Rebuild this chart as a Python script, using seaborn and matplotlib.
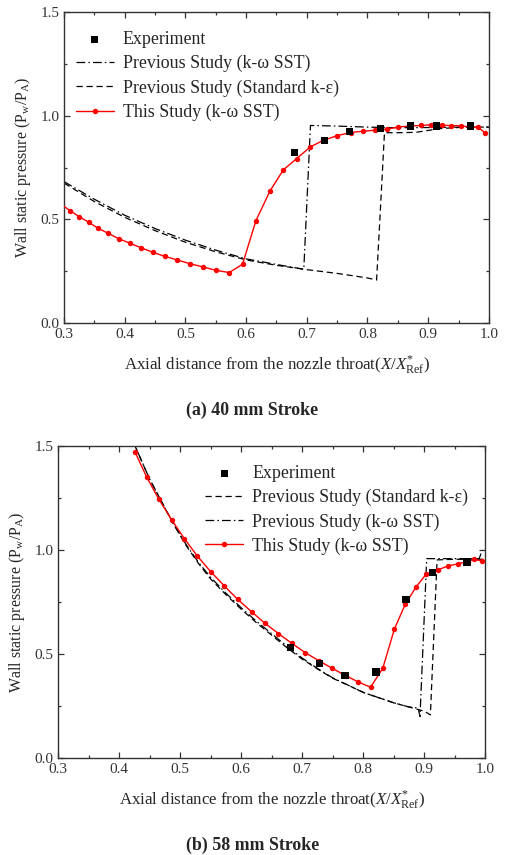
import numpy as np
import matplotlib
matplotlib.use("Agg")
import matplotlib.pyplot as plt
import seaborn as sns
from matplotlib.ticker import MultipleLocator, FormatStrFormatter

sns.set_style("ticks")
plt.rcParams["font.family"] = ["Liberation Serif", "DejaVu Serif"]
plt.rcParams["mathtext.fontset"] = "custom"
plt.rcParams["mathtext.rm"] = "Liberation Serif"
plt.rcParams["mathtext.it"] = "Liberation Serif:italic"

# (a) 40 mm stroke
exp_a_x = [0.68, 0.729, 0.77, 0.821, 0.871, 0.914, 0.97]
exp_a_y = [0.823, 0.881, 0.924, 0.937, 0.95, 0.95, 0.95]

sst_prev_a_x = [0.3, 0.35, 0.4, 0.45, 0.5, 0.55, 0.6, 0.65, 0.695, 0.706, 0.75, 0.8, 0.85, 0.9, 0.95, 1.0]
sst_prev_a_y = [0.682, 0.597, 0.52, 0.456, 0.40, 0.352, 0.31, 0.283, 0.26, 0.953, 0.95, 0.945, 0.942, 0.943, 0.945, 0.945]

ke_prev_a_x = [0.3, 0.35, 0.4, 0.45, 0.5, 0.55, 0.6, 0.65, 0.7, 0.75, 0.8, 0.815, 0.828, 0.85, 0.88, 0.92, 0.96, 1.0]
ke_prev_a_y = [0.675, 0.586, 0.51, 0.446, 0.39, 0.344, 0.305, 0.279, 0.258, 0.24, 0.218, 0.208, 0.918, 0.918, 0.92, 0.938, 0.945, 0.945]

this_a_x = [0.294, 0.31, 0.325, 0.341, 0.356, 0.373, 0.39, 0.409, 0.427, 0.446,
            0.466, 0.486, 0.507, 0.529, 0.55, 0.572, 0.594, 0.616, 0.639, 0.661,
            0.683, 0.706, 0.727, 0.75, 0.772, 0.792, 0.812, 0.832, 0.851, 0.87,
            0.888, 0.905, 0.922, 0.938, 0.954, 0.968, 0.982, 0.994]
this_a_y = [0.575, 0.542, 0.513, 0.486, 0.457, 0.433, 0.407, 0.385, 0.363, 0.342,
            0.322, 0.305, 0.287, 0.271, 0.255, 0.244, 0.284, 0.493, 0.636, 0.738,
            0.793, 0.85, 0.881, 0.904, 0.919, 0.925, 0.93, 0.935, 0.946, 0.95,
            0.953, 0.956, 0.955, 0.952, 0.952, 0.945, 0.944, 0.918]

# (b) 58 mm stroke
exp_b_x = [0.681, 0.728, 0.77, 0.821, 0.87, 0.913, 0.97]
exp_b_y = [0.531, 0.454, 0.395, 0.413, 0.763, 0.892, 0.942]

ke_prev_b_x = [0.42, 0.45, 0.47, 0.49, 0.51, 0.53, 0.55, 0.575, 0.6, 0.625, 0.65, 0.675, 0.7,
               0.725, 0.75, 0.775, 0.8, 0.825, 0.85, 0.875, 0.9, 0.91, 0.921, 0.95, 1.0]
ke_prev_b_y = [1.54, 1.34, 1.23, 1.12, 1.02, 0.935, 0.86, 0.785, 0.715, 0.65, 0.59, 0.53, 0.475,
               0.428, 0.383, 0.35, 0.315, 0.29, 0.265, 0.245, 0.225, 0.207, 0.952, 0.955, 0.955]

sst_prev_b_x = [0.42, 0.45, 0.47, 0.49, 0.51, 0.53, 0.55, 0.575, 0.6, 0.625, 0.65, 0.675, 0.7,
                0.725, 0.75, 0.775, 0.8, 0.825, 0.85, 0.875, 0.89, 0.893, 0.904, 0.95, 0.99, 0.995]
sst_prev_b_y = [1.54, 1.34, 1.23, 1.12, 1.025, 0.94, 0.868, 0.792, 0.722, 0.657, 0.597, 0.537, 0.48,
                0.43, 0.385, 0.35, 0.315, 0.29, 0.265, 0.245, 0.24, 0.199, 0.958, 0.958, 0.958, 1.0]

this_b_x = [0.426, 0.445, 0.465, 0.486, 0.507, 0.528, 0.55, 0.572, 0.594, 0.617,
            0.639, 0.661, 0.683, 0.705, 0.727, 0.749, 0.771, 0.792, 0.812, 0.832,
            0.851, 0.869, 0.887, 0.903, 0.922, 0.939, 0.955, 0.971, 0.981, 0.995]
this_b_y = [1.471, 1.351, 1.244, 1.145, 1.054, 0.971, 0.896, 0.828, 0.763, 0.703,
            0.647, 0.598, 0.551, 0.506, 0.468, 0.431, 0.396, 0.365, 0.34, 0.431,
            0.619, 0.74, 0.824, 0.883, 0.904, 0.923, 0.933, 0.944, 0.955, 0.947]

lab_exp = "Experiment"
lab_sst = "Previous Study (k-\u03c9 SST)"
lab_ke = "Previous Study (Standard k-\u03b5)"
lab_this = "This Study (k-\u03c9 SST)"

fig = plt.figure(figsize=(5.05, 8.55), dpi=100)
ax1 = fig.add_axes([0.127, 0.622, 0.841, 0.364])
ax2 = fig.add_axes([0.115, 0.1135, 0.846, 0.365])

dashdot = (7, 2.5, 1.2, 2.5)
dashed = (5, 3)


def draw_exp(ax, x, y):
    sns.scatterplot(x=x, y=y, ax=ax, marker="s", s=27, color="black",
                    edgecolor="none", label=lab_exp, zorder=5)


def draw_line(ax, x, y, dash, label):
    sns.lineplot(x=x, y=y, ax=ax, sort=False, estimator=None, color="black",
                 lw=0.9, label=label).lines[-1].set_dashes(dash)


def draw_this(ax, x, y):
    sns.lineplot(x=x, y=y, ax=ax, sort=False, estimator=None, color="#ff0000",
                 lw=1.0, marker="o", markersize=3.9, markeredgewidth=0,
                 label=lab_this, zorder=4)


draw_exp(ax1, exp_a_x, exp_a_y)
draw_line(ax1, sst_prev_a_x, sst_prev_a_y, dashdot, lab_sst)
draw_line(ax1, ke_prev_a_x, ke_prev_a_y, dashed, lab_ke)
draw_this(ax1, this_a_x, this_a_y)

draw_exp(ax2, exp_b_x, exp_b_y)
draw_line(ax2, ke_prev_b_x, ke_prev_b_y, dashed, lab_ke)
draw_line(ax2, sst_prev_b_x, sst_prev_b_y, dashdot, lab_sst)
draw_this(ax2, this_b_x, this_b_y)

xlab = r"Axial distance from the nozzle throat($\it{X/X}^{*}_{\rm Ref}$)"
ylab = r"Wall static pressure (P$_{\rm w}$/P$_{\rm A}$)"

for ax, anchor in [(ax1, (0.028, 0.939)), (ax2, (0.345, 0.939))]:
    ax.set_xlim(0.3, 1.0)
    ax.set_ylim(0.0, 1.5)
    ax.xaxis.set_major_locator(MultipleLocator(0.1))
    ax.xaxis.set_minor_locator(MultipleLocator(0.05))
    ax.yaxis.set_major_locator(MultipleLocator(0.5))
    ax.yaxis.set_minor_locator(MultipleLocator(0.25))
    ax.xaxis.set_major_formatter(FormatStrFormatter("%.1f"))
    ax.yaxis.set_major_formatter(FormatStrFormatter("%.1f"))
    ax.tick_params(which="both", direction="in", top=True, right=True,
                   color="#333333", labelsize=11, labelcolor="#333333")
    ax.tick_params(which="major", length=4, width=0.9)
    ax.tick_params(which="minor", length=2.5, width=0.9)
    for sp in ax.spines.values():
        sp.set_color("#333333")
        sp.set_linewidth(1.0)
    ax.set_xlabel(xlab, fontsize=12.2, labelpad=9)
    ax.set_ylabel(ylab, fontsize=11.5, labelpad=5)
    ax.legend(loc="upper left", bbox_to_anchor=anchor, frameon=False,
              fontsize=12.9, handlelength=2.1, handletextpad=0.5,
              labelspacing=0.39, borderpad=0, borderaxespad=0)

fig.text(0.5, 1 - 410 / 855, "(a) 40 mm Stroke", ha="center", va="center",
         fontsize=12.9, fontweight="bold")
fig.text(0.5, 1 - 845 / 855, "(b) 58 mm Stroke", ha="center", va="center",
         fontsize=12.9, fontweight="bold")

fig.savefig("out.png", dpi=100)
